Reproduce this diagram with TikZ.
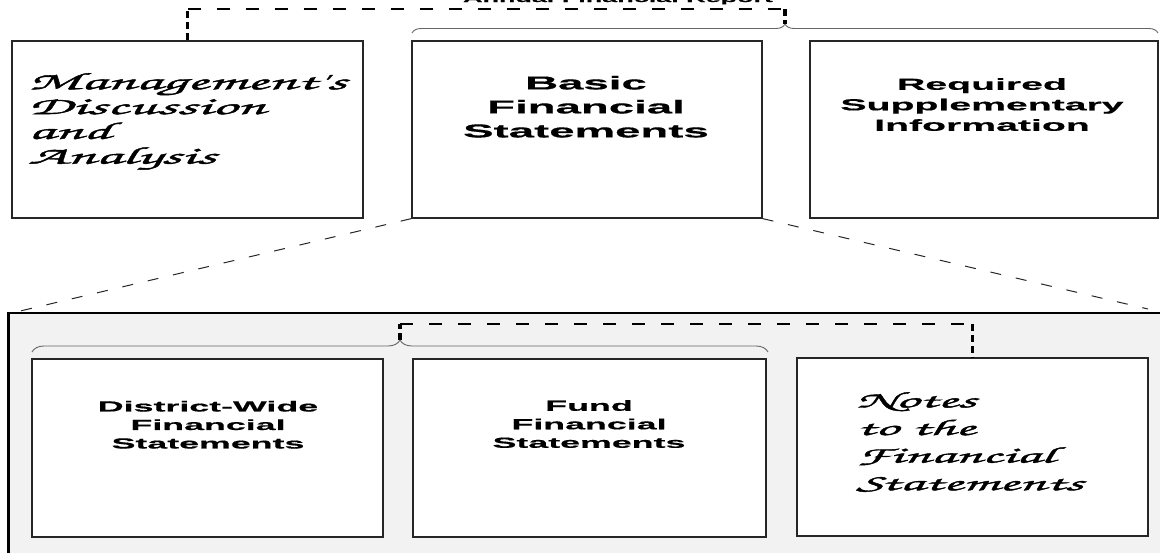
\documentclass[tikz,border=0pt]{standalone}
\usepackage{fontspec}
\usetikzlibrary{decorations.pathreplacing}
\newfontfamily\widefont{Liberation Sans Bold}[FakeStretch=2.45,FakeBold=0.6]
\newfontfamily\myscript{texgyrechorus-mediumitalic}[Extension=.otf,FakeStretch=2.6,FakeBold=1.8]
\definecolor{panel}{HTML}{F2F2F2}
\definecolor{bracecol}{HTML}{666666}
\tikzset{
  box/.style={draw=black!85, line width=1.2pt, fill=white, inner sep=0pt},
  widetext/.style={font=\widefont, align=center, inner sep=0pt, text=black},
  scripttext/.style={font=\myscript, align=left, inner sep=0pt, text=black},
  hdash/.style={line width=2.2pt, dash pattern=on 13pt off 16pt},
  vdash/.style={line width=3.4pt, dash pattern=on 7pt off 4pt},
  thindash/.style={line width=1pt, dash pattern=on 11pt off 15pt, black!85},
  bracepath/.style={draw=bracecol, line width=0.9pt, decorate},
}
\begin{document}
\begin{tikzpicture}[x=1pt,y=-1pt]
\useasboundingbox (0,0) rectangle (1160,552);
\clip (0,0) rectangle (1160,552);
% lower panel
\path[draw=black, line width=1.3pt, fill=panel] (8,313) rectangle (1172,570);
\draw[line width=3pt] (8,312.4) -- (8,570);
% top boxes
\node[box, minimum width=351pt, minimum height=177pt] (md)  at (187.5,129.5) {};
\node[box, minimum width=350pt, minimum height=177pt] (bfs) at (587,129.5) {};
\node[box, minimum width=348pt, minimum height=177pt] (rsi) at (984,129.5) {};
% bottom boxes
\node[box, minimum width=351pt, minimum height=178pt] (dw)    at (207.5,448) {};
\node[box, minimum width=353pt, minimum height=178pt] (fund)  at (589.5,448) {};
\node[box, minimum width=351pt, minimum height=178pt] (notes) at (972.5,447) {};
% zoom lines
\coordinate (pl) at (16,312);
\coordinate (pr) at (1148,309);
\draw[thindash] (bfs.south west) -- (pl);
\draw[thindash] (bfs.south east) -- (pr);
% braces
\coordinate (b1l) at (412,33);
\coordinate (b1r) at (1158,33);
\coordinate (t1) at (785,24);
\draw[bracepath, decoration={brace, amplitude=9pt}] (b1l) -- (b1r);
\coordinate (b2l) at (32,352);
\coordinate (b2r) at (768,352);
\coordinate (t2) at (400,340);
\draw[bracepath, decoration={brace, amplitude=12pt}] (b2l) -- (b2r);
% connectors
\coordinate (c1) at (187.5,9);
\coordinate (c2) at (785,9);
\draw[vdash] (md.north) -- (c1);
\draw[hdash] (c1) -- (c2);
\draw[vdash] (c2) -- (t1);
\coordinate (c3) at (400,324);
\coordinate (c4) at (972.5,324);
\draw[vdash] (t2) -- (c3);
\draw[hdash] (c3) -- (c4);
\draw[vdash] (c4) -- (notes.north);
% texts
\node[widetext, anchor=base, font=\widefont\fontsize{11}{13}\selectfont] (title) at (618,2) {Annual Financial Report};
\node[widetext, anchor=north, font=\widefont\fontsize{18.6}{24}\selectfont] (tbfs) at (586,75.7) {Basic\\Financial\\Statements};
\node[widetext, anchor=north, font=\widefont\fontsize{16}{20.5}\selectfont] (trsi) at (982,78) {Required\\Supplementary\\Information};
\node[widetext, anchor=north, font=\widefont\fontsize{14.6}{18.5}\selectfont] (tdw) at (208,400.7) {District-Wide\\Financial\\Statements};
\node[widetext, anchor=north, font=\widefont\fontsize{14.6}{18.5}\selectfont] (tfund) at (589,400) {Fund\\Financial\\Statements};
\node[scripttext, anchor=north west, font=\myscript\fontsize{24}{24.8}\selectfont] (tmd) at (28,73) {Management's\\Discussion\\and\\Analysis};
\node[scripttext, anchor=north west, font=\myscript\fontsize{22.5}{27.6}\selectfont] (tnotes) at (856,392) {Notes\\to the\\Financial\\Statements};
\end{tikzpicture}
\end{document}
